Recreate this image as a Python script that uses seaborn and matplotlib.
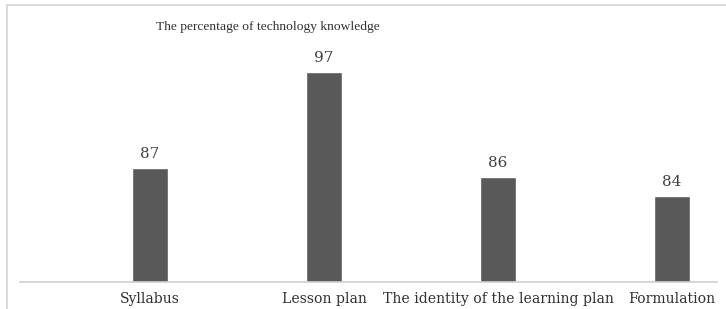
"""Bar chart: the percentage of technology knowledge."""

import matplotlib

matplotlib.use("Agg")
import matplotlib.pyplot as plt
import pandas as pd
import seaborn as sns
from matplotlib.lines import Line2D

categories = ["Syllabus", "Lesson plan", "The identity of the learning plan", "Formulation"]
percentages = [87, 97, 86, 84]
title = "The percentage of technology knowledge"

W, H = 726, 309

sns.set_theme(style="white")
plt.rcParams["font.family"] = ["DejaVu Serif"]

df = pd.DataFrame({"category": categories, "percentage": percentages})

fig = plt.figure(figsize=(W / 100, H / 100), dpi=100)
ax = fig.add_axes([20 / W, 27 / H, 697 / W, 238.5 / H])

sns.barplot(data=df, x="category", y="percentage", color="#595959",
            width=0.205, saturation=1, ax=ax)

for c in ax.containers:
    ax.bar_label(c, padding=5, fontsize=11, color="#404040")

ax.set_ylim(75, 100)
ax.set_xlim(-0.747, 3.259)
ax.set_xlabel("")
ax.set_ylabel("")
ax.set_yticks([])
ax.tick_params(axis="x", length=0, pad=7, labelsize=10.1, labelcolor="#303030")
for side in ["top", "right", "left"]:
    ax.spines[side].set_visible(False)
ax.spines["bottom"].set_color("#d0d0d0")
ax.spines["bottom"].set_linewidth(1.2)

fig.text(268 / W, 1 - 27 / H, title, ha="center", va="center",
         fontsize=9.7, color="#303030", family=["Liberation Serif"])

# chart-area frame (left and top edges visible in the crop)
fig.add_artist(Line2D([7 / W, 7 / W], [0, 1 - 5 / H], transform=fig.transFigure,
                      color="#d4d4d4", linewidth=1.2))
fig.add_artist(Line2D([7 / W, 1], [1 - 5 / H, 1 - 5 / H], transform=fig.transFigure,
                      color="#d4d4d4", linewidth=1.2))

fig.savefig("out.png", dpi=100)
plt.close(fig)
